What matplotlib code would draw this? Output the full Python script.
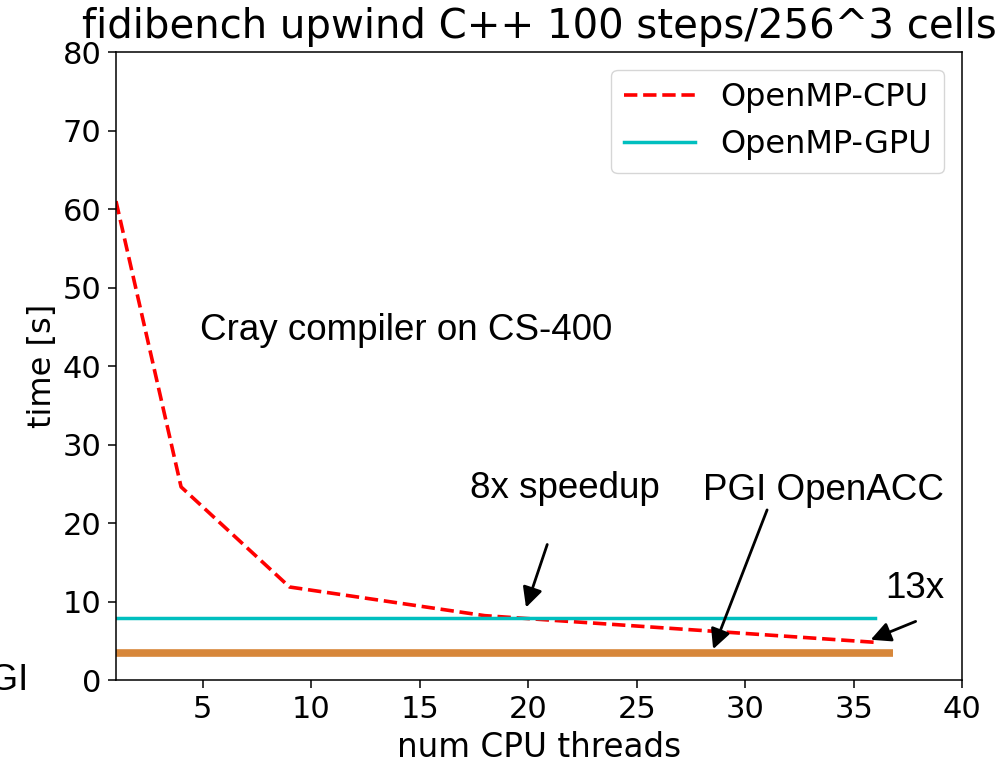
import matplotlib
matplotlib.use("Agg")
import matplotlib.pyplot as plt

# OpenMP on the CPU, time per thread count
cpu_threads = [1, 4, 9, 18, 36]
cpu_time = [61.0, 24.6, 11.85, 8.2, 4.8]

# OpenMP offload to the GPU (flat reference line)
gpu_threads = [1, 36]
gpu_time = [7.9, 7.9]

# PGI OpenACC reference line
pgi_threads = [1, 36.8]
pgi_time = [3.4, 3.4]

ARIAL = "Liberation Sans"
NOTE_SIZE = 26.5

fig = plt.figure(figsize=(10.06, 7.67), dpi=100)
ax = fig.add_axes([0.1153, 0.1134, 0.841, 0.8188])

ax.plot(cpu_threads, cpu_time, "r--", linewidth=2.6, label="OpenMP-CPU")
ax.plot(gpu_threads, gpu_time, color="c", linewidth=2.5, label="OpenMP-GPU")
ax.plot(pgi_threads, pgi_time, color="#d7873a", linewidth=5.5, solid_capstyle="butt")

ax.set_xlim(1, 40)
ax.set_ylim(0, 80)
ax.set_xticks([5, 10, 15, 20, 25, 30, 35, 40])
ax.set_yticks(range(0, 81, 10))
ax.tick_params(labelsize=22, length=6, width=1.1, pad=4.5)
for spine in ax.spines.values():
    spine.set_linewidth(1.1)

ax.set_xlabel("num CPU threads", fontsize=23.5, labelpad=5)
ax.set_ylabel("time [s]", fontsize=23, labelpad=3)
ax.set_title("fidibench upwind C++ 100 steps/256^3 cells", fontsize=29, pad=10)

ax.legend(loc="upper right", fontsize=23, handlelength=2.2, borderaxespad=0.55)

ax.text(4.87, 43.3, "Cray compiler on CS-400", fontsize=NOTE_SIZE, family=ARIAL)
ax.text(-3.06, 0, "PGI", fontsize=NOTE_SIZE, family=ARIAL, va="center", ha="right", clip_on=False)

arrow = dict(arrowstyle="-|>", color="black", lw=2, mutation_scale=30)
ax.annotate("", xy=(19.86, 8.9), xytext=(20.92, 17.6), arrowprops=arrow)
ax.text(17.32, 23.2, "8x speedup", fontsize=NOTE_SIZE, family=ARIAL)
ax.annotate("", xy=(28.48, 3.6), xytext=(31.06, 22.0), arrowprops=arrow)
ax.text(28.06, 22.9, "PGI OpenACC", fontsize=NOTE_SIZE, family=ARIAL)
ax.annotate("", xy=(35.67, 5.0), xytext=(37.98, 7.6), arrowprops=arrow)
ax.text(36.45, 10.45, "13x", fontsize=NOTE_SIZE, family=ARIAL)

fig.savefig("out.png", dpi=100)
